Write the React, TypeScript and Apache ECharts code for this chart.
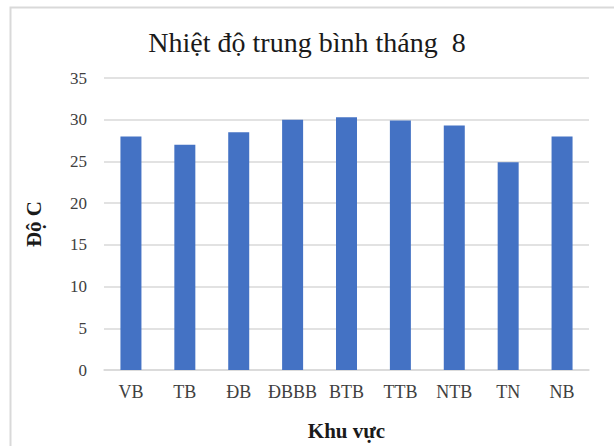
import React, { useEffect, useRef } from "react";
import * as echarts from "echarts";

const categories = ["VB", "TB", "ĐB", "ĐBBB", "BTB", "TTB", "NTB", "TN", "NB"];
const values = [28, 27, 28.5, 30, 30.3, 29.9, 29.3, 24.9, 28];
const titleText = "Nhiệt độ trung bình tháng  8";
const yAxisName = "Độ C";
const xAxisName = "Khu vực";

const FONT = "Liberation Serif";

export default function App() {
  const ref = useRef<HTMLDivElement>(null);
  useEffect(() => {
    if (!ref.current) return;
    const chart = echarts.init(ref.current, null, { renderer: "svg" });
    chart.setOption({
      animation: false,
      backgroundColor: "#ffffff",
      textStyle: { fontFamily: FONT },
      graphic: [
        {
          type: "rect",
          shape: { x: 10.5, y: 7.5, width: 620, height: 460 },
          style: { fill: "none", stroke: "#d9d9d9", lineWidth: 2 },
          z: 100,
        },
      ],
      title: {
        text: titleText,
        left: "center",
        top: 23,
        textStyle: {
          fontFamily: FONT,
          fontSize: 28,
          fontWeight: "normal",
          color: "#1a1a1a",
        },
      },
      grid: { left: 104, right: 25, top: 78, bottom: 76 },
      xAxis: {
        type: "category",
        data: categories,
        axisTick: { show: false },
        axisLine: { lineStyle: { color: "#d9d9d9", width: 1.5 } },
        axisLabel: {
          fontFamily: FONT,
          fontSize: 18,
          color: "#404040",
          margin: 13,
          interval: 0,
        },
        name: xAxisName,
        nameLocation: "middle",
        nameGap: 50,
        nameTextStyle: {
          fontFamily: FONT,
          fontSize: 21,
          fontWeight: "bold",
          color: "#1a1a1a",
        },
      },
      yAxis: {
        type: "value",
        min: 0,
        max: 35,
        interval: 5,
        axisLine: { show: false },
        axisTick: { show: false },
        splitLine: { lineStyle: { color: "#d9d9d9", width: 1.5 } },
        axisLabel: {
          fontFamily: FONT,
          fontSize: 17,
          color: "#404040",
          margin: 17,
        },
        name: yAxisName,
        nameLocation: "middle",
        nameGap: 60,
        nameRotate: 90,
        nameTextStyle: {
          fontFamily: FONT,
          fontSize: 21,
          fontWeight: "bold",
          color: "#1a1a1a",
        },
      },
      series: [
        {
          type: "bar",
          data: values,
          barWidth: 21,
          itemStyle: { color: "#4472C4" },
        },
      ],
    });
    return () => chart.dispose();
  }, []);
  return (
    <div
      ref={ref}
      style={{ position: "fixed", left: 0, top: 0, width: 614, height: 446 }}
    />
  );
}
